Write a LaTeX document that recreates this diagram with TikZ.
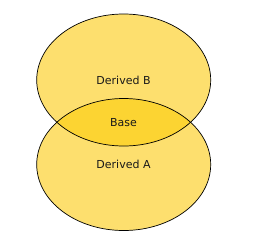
\documentclass[tikz,border=0pt]{standalone}
\usepackage{fontspec}
\setmainfont{DejaVu Sans}
\definecolor{lightfill}{RGB}{253,223,110}
\definecolor{darkfill}{RGB}{252,212,50}
\tikzset{
  label text/.style={font=\fontsize{11}{13}\selectfont, text=black!90},
  outline/.style={draw=black, line width=0.7pt}
}
\begin{document}
\begin{tikzpicture}[x=1pt,y=1pt]
\useasboundingbox (0,0) rectangle (261,250);
\coordinate (cb) at (123.7,170);
\coordinate (ca) at (123.7,85.5);
% fills
\fill[lightfill] (cb) ellipse [x radius=87, y radius=66];
\fill[lightfill] (ca) ellipse [x radius=87, y radius=66];
\begin{scope}
  \clip (cb) ellipse [x radius=87, y radius=66];
  \fill[darkfill] (ca) ellipse [x radius=87, y radius=66];
\end{scope}
% outlines
\draw[outline] (cb) ellipse [x radius=87, y radius=66];
\draw[outline] (ca) ellipse [x radius=87, y radius=66];
% labels
\node[label text] (derivedB) at (123.5,169.5) {Derived B};
\node[label text] (base) at (123.5,127.5) {Base};
\node[label text] (derivedA) at (123.5,85.5) {Derived A};
\end{tikzpicture}
\end{document}
